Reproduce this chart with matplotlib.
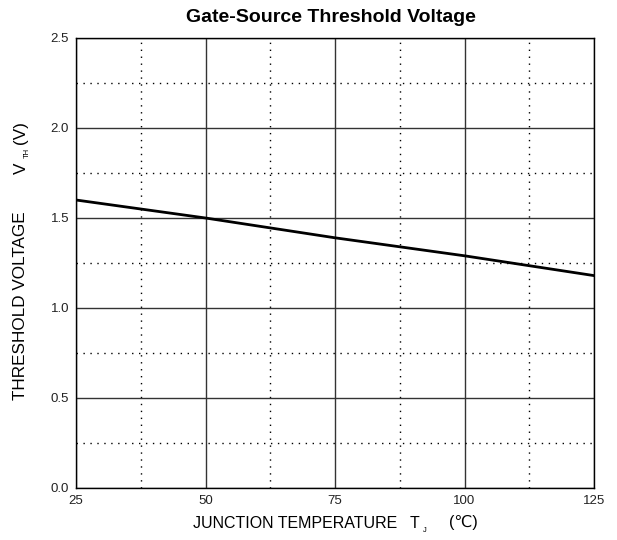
import matplotlib
matplotlib.use("Agg")
import matplotlib.pyplot as plt
from matplotlib.ticker import MultipleLocator

plt.rcParams['font.family'] = ['Liberation Sans', 'DejaVu Sans']

temps = [25, 50, 75, 100, 125]
vth = [1.60, 1.50, 1.39, 1.29, 1.18]
x_ticks = [25, 50, 75, 100, 125]
y_ticks = [0.0, 0.5, 1.0, 1.5, 2.0, 2.5]

W, H = 617, 540
fig = plt.figure(figsize=(W/100, H/100), dpi=100)
ax = fig.add_axes([76/W, 1-488/H, (594-76)/W, (488-38)/H])

ax.plot(temps, vth, color='black', lw=2.0, zorder=3)
ax.set_xlim(25, 125)
ax.set_ylim(0, 2.5)
ax.set_xticks(x_ticks)
ax.set_yticks(y_ticks)
ax.set_yticklabels([f"{v:.1f}" for v in y_ticks])
ax.xaxis.set_minor_locator(MultipleLocator(12.5))
ax.yaxis.set_minor_locator(MultipleLocator(0.25))
ax.grid(which='major', color='#333333', lw=1.0, ls='-')
ax.grid(which='minor', color='black', lw=1.0, ls=(0, (1, 4)))
ax.tick_params(which='both', length=0, labelsize=9.5, colors='#222222', pad=5)
for s in ax.spines.values():
    s.set_color('black')
    s.set_linewidth(1.0)

def px(x, y):
    return x / W, 1 - y / H

# title
fig.text(*px(331, 18), 'Gate-Source Threshold Voltage',
         ha='center', va='center', fontsize=14, fontweight='bold')

# y label pieces (rotated)
fig.text(*px(21, 400), 'THRESHOLD VOLTAGE', rotation=90, ha='center', va='bottom', fontsize=12.3)
fig.text(*px(21, 174), 'V', rotation=90, ha='center', va='bottom', fontsize=12.3)
fig.text(*px(27, 158), 'TH', rotation=90, ha='center', va='bottom', fontsize=5.5)
fig.text(*px(21, 144), '(V)', rotation=90, ha='center', va='bottom', fontsize=12.3)

# x label pieces
fig.text(*px(193, 523), 'JUNCTION TEMPERATURE', ha='left', va='center', fontsize=11.5)
fig.text(*px(410, 523), 'T', ha='left', va='center', fontsize=11.5)
fig.text(*px(423, 530), 'J', ha='left', va='center', fontsize=5.5)
fig.text(*px(449, 523), '(℃)', ha='left', va='center', fontsize=11.5)

fig.savefig('out.png', dpi=100)
